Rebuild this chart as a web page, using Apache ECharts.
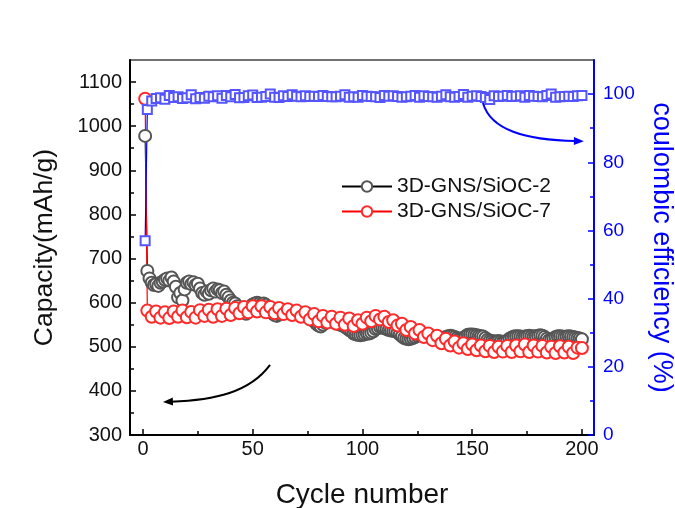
<!DOCTYPE html>
<html><head><meta charset="utf-8">
<script src="https://cdn.jsdelivr.net/npm/echarts@6/dist/echarts.min.js"></script>
<style>html,body{margin:0;padding:0;background:#fff}#c{width:675px;height:508px}</style>
</head><body><div id="c"></div>
<script>
// 3D-GNS/SiOC-2 capacity (mAh/g), every cycle 1..200
const capSiOC2 = [978,672,655,645,640,642,638,645,648,652, 655,650,657,648,636,612,622,605,630,645,
 648,642,646,640,643,632,622,618,625,620, 628,632,625,630,628,622,625,618,612,605,
 600,598,592,585,582,578,575,580,588,596, 598,600,598,596,598,595,590,582,576,572,
 570,573,576,578,580,582,580,578,576,578, 575,572,570,572,575,570,565,558,552,548,
 546,550,555,558,560,558,556,554,552,550, 548,545,542,538,535,530,528,527,526,527,
 528,530,530,532,535,540,542,545,544,542, 540,538,537,536,535,532,528,524,520,518,
 517,518,520,522,525,527,528,528,527,526, 524,522,520,518,517,518,520,522,524,525,
 524,522,520,518,518,520,524,527,528,528, 527,526,525,524,523,520,516,514,513,512,
 512,513,512,511,512,514,518,521,523,524, 524,523,522,523,524,525,524,523,524,525,
 526,525,522,518,515,516,519,522,524,524, 523,522,523,524,523,522,521,520,519,517];
// 3D-GNS/SiOC-7 capacity (mAh/g), cycle 1 then every 2nd cycle 2..200
const capSiOC7 = [1062,582,568,580,566,578,565,580,568,582, 567,579,566,583,570,584,568,585,570,586,
 572,588,576,590,578,592,580,592,578,590, 576,588,574,585,572,582,568,578,562,574,
 558,570,555,568,552,566,550,564,547,560, 552,566,558,570,562,568,556,560,548,552,
 538,545,530,538,522,530,515,525,508,518, 503,512,498,508,495,505,492,503,490,502,
 488,500,489,502,488,503,490,505,488,503, 489,502,487,500,486,501,487,500,486,498, 497];
// Coulombic efficiency (%), cycle 1 then every 2nd cycle 2..200
const ceSiOC = [57.0,95.5,
 98.0,98.7,98.9,98.5,99.6,99.0,99.2,98.7,98.9,99.8, 98.6,99.0,98.8,99.4,99.2,99.5,98.8,99.6,99.2,99.9,
 98.9,99.0,99.5,99.7,99.0,99.1,99.3,100.0,99.1,99.0, 99.5,99.3,99.8,99.4,99.2,99.5,99.3,99.4,99.3,99.6,
 99.3,99.2,99.2,99.4,99.8,99.1,99.2,99.1,99.6,99.4, 99.3,99.2,99.0,99.6,99.4,99.5,99.3,99.1,99.2,99.4,
 99.6,99.1,99.5,99.3,99.2,99.1,99.4,99.8,99.2,99.1, 99.3,99.9,99.1,99.4,99.5,99.3,99.0,98.4,99.5,99.3,
 99.4,99.6,99.3,99.4,99.5,99.1,99.6,99.4,99.3,99.2, 99.6,100.0,99.1,99.2,99.3,99.4,99.3,99.5,99.6];
const seriesNames = ['3D-GNS/SiOC-2', '3D-GNS/SiOC-7'];
const xMajor = [0, 50, 100, 150, 200];
const xMinor = [25, 75, 125, 175];
const capMajor = [300, 400, 500, 600, 700, 800, 900, 1000, 1100];
const capMinor = [350, 450, 550, 650, 750, 850, 950, 1050];
const ceMajor = [0, 20, 40, 60, 80, 100];
const ceMinor = [10, 30, 50, 70, 90];

const everyCycle = arr => arr.map((v, i) => [i + 1, v]);
const everyOther = arr => arr.map((v, i) => [i === 0 ? 1 : 2 * i, v]);
const FONT = '"Liberation Sans", Arial, sans-serif';
const BLUE = '#0000ff';
const plain = v => String(v);

const chart = echarts.init(document.getElementById('c'), null, {renderer: 'canvas'});
const baseX = {type: 'value', min: -5.9, max: 205.5, position: 'bottom', splitLine: {show: false}};
const baseL = {type: 'value', min: 300, max: 1150, position: 'left', splitLine: {show: false}};
const baseR = {type: 'value', min: 0, max: 110, position: 'right', splitLine: {show: false}};
const hiddenLine = {show: false, onZero: false};
const option = {
  animation: false,
  backgroundColor: '#fff',
  grid: {left: 130, right: 81, top: 60, bottom: 73, containLabel: false, outerBoundsMode: 'none',
         show: true, borderColor: '#444', borderWidth: 1.5, backgroundColor: 'transparent'},
  legend: {
    data: seriesNames, orient: 'vertical', left: 336, top: 171, itemWidth: 50, itemHeight: 13, itemGap: 4,
    textStyle: {fontFamily: FONT, fontSize: 21, color: '#111'}
  },
  xAxis: [
    Object.assign({}, baseX, {
      name: 'Cycle number', nameLocation: 'middle', nameGap: 46,
      nameTextStyle: {fontFamily: FONT, fontSize: 28, color: '#111'},
      axisLine: {show: true, onZero: false, lineStyle: {color: '#000', width: 2}},
      axisTick: {show: true, inside: true, length: 6, lineStyle: {color: '#000', width: 1.5}, customValues: xMajor},
      axisLabel: {show: true, margin: 4, fontFamily: FONT, fontSize: 20, color: '#111', customValues: xMajor, formatter: plain}
    }),
    Object.assign({}, baseX, {
      axisLine: hiddenLine, axisLabel: {show: false},
      axisTick: {show: true, inside: true, length: 4, lineStyle: {color: '#000', width: 1.5}, customValues: xMinor}
    })
  ],
  yAxis: [
    Object.assign({}, baseL, {
      name: 'Capacity(mAh/g)', nameLocation: 'middle', nameGap: 72,
      nameTextStyle: {fontFamily: FONT, fontSize: 26.5, color: '#111'},
      axisLine: {show: true, onZero: false, lineStyle: {color: '#000', width: 2}},
      axisTick: {show: true, inside: true, length: 6, lineStyle: {color: '#000', width: 1.5}, customValues: capMajor},
      axisLabel: {show: true, margin: 8, fontFamily: FONT, fontSize: 20, color: '#111', customValues: capMajor, formatter: plain}
    }),
    Object.assign({}, baseR, {
      name: 'coulombic efficiency (%)', nameLocation: 'middle', nameGap: 54, nameRotate: -90,
      nameTextStyle: {fontFamily: FONT, fontSize: 27, color: BLUE},
      axisLine: {show: true, onZero: false, lineStyle: {color: BLUE, width: 2}},
      axisTick: {show: true, inside: true, length: 6, lineStyle: {color: BLUE, width: 1.5}, customValues: ceMajor},
      axisLabel: {show: true, margin: 9, fontFamily: FONT, fontSize: 19, color: BLUE, customValues: ceMajor, formatter: plain}
    }),
    Object.assign({}, baseL, {
      axisLine: hiddenLine, axisLabel: {show: false},
      axisTick: {show: true, inside: true, length: 4, lineStyle: {color: '#000', width: 1.5}, customValues: capMinor}
    }),
    Object.assign({}, baseR, {
      axisLine: hiddenLine, axisLabel: {show: false},
      axisTick: {show: true, inside: true, length: 4, lineStyle: {color: BLUE, width: 1.5}, customValues: ceMinor}
    })
  ],
  series: [
    {
      name: seriesNames[0], type: 'line', xAxisIndex: 0, yAxisIndex: 0, data: everyCycle(capSiOC2),
      symbol: 'emptyCircle', symbolSize: 12, showAllSymbol: true,
      itemStyle: {color: '#555', borderWidth: 1}, lineStyle: {color: '#000', width: 1.2}
    },
    {
      name: seriesNames[1], type: 'line', xAxisIndex: 0, yAxisIndex: 0, data: everyOther(capSiOC7),
      symbol: 'emptyCircle', symbolSize: 12, showAllSymbol: true,
      itemStyle: {color: '#ff2a2a', borderWidth: 1}, lineStyle: {color: '#ff0000', width: 1.2}
    },
    {
      name: 'CE', type: 'line', xAxisIndex: 0, yAxisIndex: 1, data: everyOther(ceSiOC),
      symbol: 'emptyRect', symbolSize: 9, showAllSymbol: true,
      itemStyle: {color: '#5555ff', borderWidth: 1}, lineStyle: {color: BLUE, width: 1.2}
    }
  ]
};
chart.setOption(option);

// Annotation arrows anchored in data coordinates
function P(x, y, yi) { return chart.convertToPixel({xAxisIndex: 0, yAxisIndex: yi}, [x, y]); }
function arrow(pts, color) {
  const [s, c1, c2, e] = pts;
  const dx = e[0] - c2[0], dy = e[1] - c2[1];
  const L = Math.hypot(dx, dy) || 1;
  const ux = dx / L, uy = dy / L;
  const len = 10, hw = 4;
  const bx = e[0] - ux * len, by = e[1] - uy * len;
  return [
    {type: 'bezierCurve', shape: {x1: s[0], y1: s[1], cpx1: c1[0], cpy1: c1[1], cpx2: c2[0], cpy2: c2[1], x2: bx + ux * 2, y2: by + uy * 2},
     style: {stroke: color, lineWidth: 2, fill: null}, z: 100},
    {type: 'polygon', shape: {points: [[e[0], e[1]], [bx - uy * hw, by + ux * hw], [bx + uy * hw, by - ux * hw]]},
     style: {fill: color}, z: 100}
  ];
}
const blackArrow = arrow([P(57.9, 459, 0), P(48.7, 397, 0), P(32.8, 379, 0), P(9.1, 375, 0)], '#000');
const blueArrow = arrow([P(154.9, 97.4, 1), P(158.5, 89.5, 1), P(174, 86.5, 1), P(200.9, 86.2, 1)], BLUE);
chart.setOption({graphic: blackArrow.concat(blueArrow)});
</script>
</body></html>
